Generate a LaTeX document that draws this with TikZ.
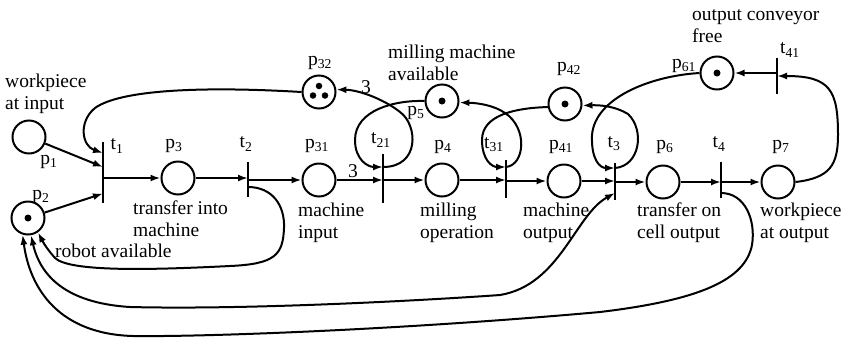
\documentclass[tikz,border=0pt]{standalone}
\usepackage{fontspec}
\setmainfont{Liberation Serif}
\usetikzlibrary{arrows.meta,calc}
\begin{document}
\begin{tikzpicture}[x=1pt,y=-1pt,
  every node/.style={font=\fontsize{19.5}{22}\selectfont},
  place/.style={circle,draw,line width=2pt,minimum size=33pt,inner sep=0pt},
  trans/.style={draw=none,minimum width=0pt,inner sep=0pt},
  bar/.style={line width=2pt},
  arc/.style={line width=2pt,-{Latex[length=10pt,width=7pt]}},
  darc/.style={line width=2pt,{Latex[length=10pt,width=7pt]}-{Latex[length=10pt,width=7pt]}},
  tok/.style={fill,circle,inner sep=0pt,minimum size=7pt},
  lbl/.style={inner sep=0pt},
  txt/.style={anchor=base west,align=left,inner sep=0pt}
]
\useasboundingbox (0,0) rectangle (843,338);

% places
\node[place] (p1) at (29,137) {};
\node[place] (p2) at (28,218) {};
\node[place] (p3) at (178,178) {};
\node[place] (p31) at (319,180) {};
\node[place] (p4) at (442,180) {};
\node[place] (p41) at (564,181) {};
\node[place] (p6) at (663,182) {};
\node[place] (p7) at (778,182) {};
\node[place] (p32) at (319,92) {};
\node[place] (p5) at (442,101) {};
\node[place] (p42) at (565,104) {};
\node[place] (p61) at (717,73) {};

% tokens
\node[tok] (k2) at (p2) {};
\node[tok,minimum size=6.5pt] (k32a) at ($(p32)+(0,-6)$) {};
\node[tok,minimum size=6.5pt] (k32b) at ($(p32)+(-6,3.5)$) {};
\node[tok,minimum size=6.5pt] (k32c) at ($(p32)+(6,3.5)$) {};
\node[tok] (k5) at (p5) {};
\node[tok] (k42) at (p42) {};
\node[tok] (k61) at (p61) {};

% transitions
\node[trans,minimum height=61pt] (t1) at (103,172.5) {};
\node[trans,minimum height=35pt] (t2) at (248,179.5) {};
\node[trans,minimum height=49pt] (t21) at (383,178.5) {};
\node[trans,minimum height=38pt] (t31) at (506,179) {};
\node[trans,minimum height=37pt] (t3) at (615,181.5) {};
\node[trans,minimum height=36pt] (t4) at (721,180) {};
\node[trans,minimum height=36pt] (t41) at (777,76) {};
\foreach \t in {t1,t2,t21,t31,t3,t4,t41}
  \draw[bar] (\t.north) -- (\t.south);

% main line arcs
\draw[arc] (p1) -- ([yshift=5.5pt]t1.center);
\draw[arc] (p2) -- ([yshift=-21pt]t1.center);
\draw[arc] (t1 |- p3) -- (p3);
\draw[arc] (p3) -- (p3 -| t2);
\draw[arc] (t2 |- p31) -- (p31);
\draw[arc] (p31) -- (p31 -| t21);
\draw[arc] (t21 |- p4) -- (p4);
\draw[arc] (p4) -- (p4 -| t31);
\draw[arc] (t31 |- p41) -- (p41);
\draw[arc] (p41) -- (p41 -| t3);
\draw[arc] (t3 |- p6) -- (p6);
\draw[arc] (p6) -- (p6 -| t4);
\draw[arc] (t4 |- p7) -- (p7);
\draw[arc] (t41 |- p61) -- (p61);

% curved arcs
\draw[arc] (p32.west) .. controls (200,86) and (120,90) .. (95,108)
  .. controls (78,122) and (82,146) .. ([yshift=19.5pt]t1.center);
\draw[arc] ([yshift=11.5pt]t21.center) .. controls (420,167) and (418,125) .. (400,112)
  .. controls (385,100) and (360,90) .. (p32.8);
\draw[arc] (p5.west) .. controls (395,100) and (355,110) .. (355,140)
  .. controls (355,160) and (368,167) .. ([yshift=11.5pt]t21.center);
\draw[arc] ([yshift=12pt]t31.center) .. controls (525,165) and (528,128) .. (505,113)
  .. controls (495,106) and (480,103) .. (p5.-5);
\draw[arc] (p42.190) .. controls (515,108) and (482,115) .. (482,140)
  .. controls (482,160) and (492,167) .. ([yshift=12pt]t31.center);
\draw[arc] ([yshift=13.5pt]t3.center) .. controls (640,166) and (645,130) .. (628,114)
  .. controls (615,106) and (600,105) .. (p42.-5);
\draw[arc] (p61.west) .. controls (650,76) and (595,98) .. (592,135)
  .. controls (591,160) and (600,168) .. ([yshift=13.5pt]t3.center);
\draw[arc] (p7.east) .. controls (830,178) and (838,165) .. (838,135)
  .. controls (838,90) and (830,76) .. (t41.center);

% robot return arcs
\draw[arc] ([yshift=-7.5pt]t2.center) .. controls (272,187) and (285,205) .. (284,228)
  .. controls (283,255) and (275,264) .. (230,266)
  .. controls (150,270) and (70,272) .. (55,258)
  .. controls (48,250) and (44,244) .. (p2.-55);
\draw[darc] (p2.-80) .. controls (40,275) and (65,303) .. (130,307)
  .. controls (250,310) and (430,300) .. (500,295)
  .. controls (560,285) and (575,215) .. ([yshift=-11.5pt]t3.center);
\draw[arc] ([yshift=-13pt]t4.center) .. controls (745,193) and (756,220) .. (752,245)
  .. controls (745,280) and (700,300) .. (600,312)
  .. controls (400,330) and (200,337) .. (133,336)
  .. controls (60,334) and (30,290) .. (p2.-108);

% weights
\node[lbl] (w1) at (353,171) {3};
\node[lbl] (w2) at (366,87) {3};

% element labels
\node[lbl] (lp1) at (49,162) {p\textsubscript{1}};
\node[lbl] (lp2) at (41,197) {p\textsubscript{2}};
\node[lbl] (lt1) at (117,146) {t\textsubscript{1}};
\node[lbl] (lp3) at (174,146) {p\textsubscript{3}};
\node[lbl] (lt2) at (246,144) {t\textsubscript{2}};
\node[lbl] (lp31) at (317,146) {p\textsubscript{31}};
\node[lbl] (lt21) at (381,140) {t\textsubscript{21}};
\node[lbl] (lp4) at (443,147) {p\textsubscript{4}};
\node[lbl] (lp32) at (320,63) {p\textsubscript{32}};
\node[lbl] (lp5) at (416,113) {p\textsubscript{5}};
\node[lbl] (lt31) at (494,145) {t\textsubscript{31}};
\node[lbl] (lp41) at (561,147) {p\textsubscript{41}};
\node[lbl] (lp42) at (569,69) {p\textsubscript{42}};
\node[lbl] (lt3) at (614,144) {t\textsubscript{3}};
\node[lbl] (lp6) at (665,147) {p\textsubscript{6}};
\node[lbl] (lt4) at (719,144) {t\textsubscript{4}};
\node[lbl] (lp7) at (781,147) {p\textsubscript{7}};
\node[lbl] (lp61) at (684,66) {p\textsubscript{61}};
\node[lbl] (lt41) at (790,50) {t\textsubscript{41}};

% descriptive texts (base = baseline of last line)
\node[txt] (d1) at (5,109) {workpiece\\at input};
\node[txt] (d2) at (133,236) {transfer into\\machine};
\node[txt] (d3) at (55,257) {robot available};
\node[txt] (d4) at (298,238) {machine\\input};
\node[txt] (d5) at (420,238) {milling\\operation};
\node[txt] (d6) at (523,238) {machine\\output};
\node[txt] (d7) at (637,238) {transfer on\\cell output};
\node[txt] (d8) at (760,238) {workpiece\\at output};
\node[txt] (d9) at (388,80) {milling machine\\available};
\node[txt] (d10) at (692,42) {output conveyor\\free};
\end{tikzpicture}
\end{document}
